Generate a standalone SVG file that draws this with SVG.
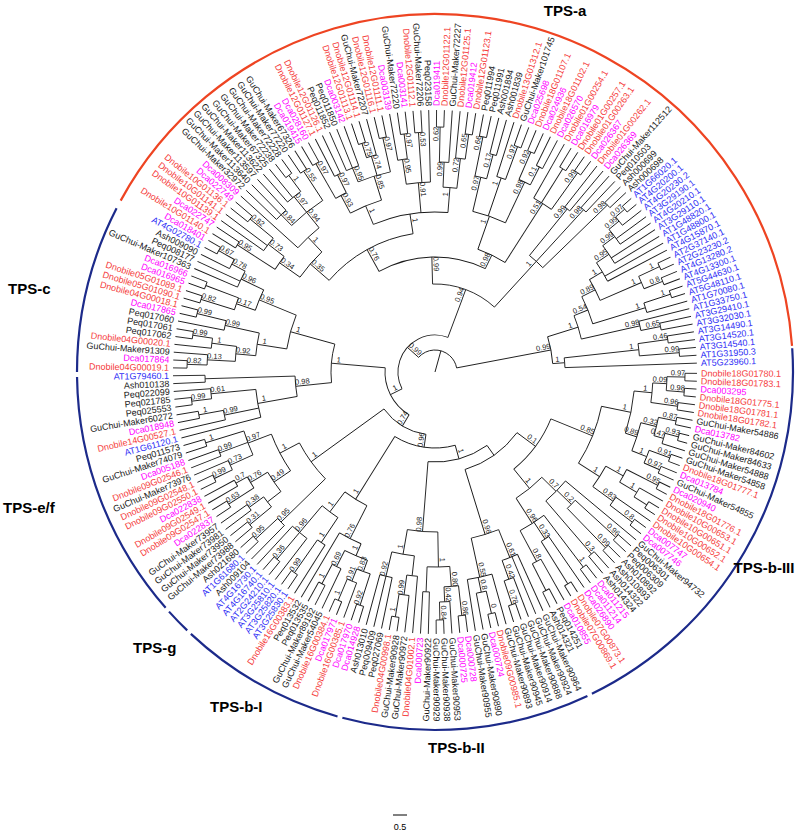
<svg xmlns="http://www.w3.org/2000/svg" width="803" height="837" viewBox="0 0 803 837">
<style>
.c line,.c circle{fill:none;stroke:#1a1a1a;stroke-width:0.9}
.lf{font-family:"Liberation Sans",Arial,sans-serif;font-size:9px;fill:#1a1a1a}
.r{fill:#f53b3b}.m{fill:#ff00ff}.b{fill:#2e2ef5}
.e{text-anchor:end}
.sp{font-family:"Liberation Sans",Arial,sans-serif;font-size:7.5px;fill:#222;text-anchor:middle}
.ca circle{fill:none;stroke-width:2.2}
.cl{font-family:"Liberation Sans",Arial,sans-serif;font-size:15px;font-weight:bold;fill:#000}
</style>
<rect width="803" height="837" fill="#fff"/>
<g transform="translate(435 372)">
<g id="connectors" class="c">
<line x2="22" transform="rotate(285.5)"/>
<circle r="22" pathLength="360" stroke-dasharray="127.53 360" transform="rotate(221.73)"/>
<line x1="22" x2="37" transform="rotate(221.73)"/>
<line x1="22" x2="118" transform="rotate(349.26)"/>
<circle r="37" pathLength="360" stroke-dasharray="137.445 360" transform="rotate(153.01)"/>
<line x1="37" x2="50" transform="rotate(153.01)"/>
<line x1="37" x2="88" transform="rotate(290.455)"/>
<circle r="50" pathLength="360" stroke-dasharray="63.68 360" transform="rotate(121.17)"/>
<line x1="50" x2="63" transform="rotate(121.17)"/>
<line x1="50" x2="104" transform="rotate(184.85)"/>
<circle r="63" pathLength="360" stroke-dasharray="45.815 360" transform="rotate(98.265)"/>
<line x1="63" x2="76" transform="rotate(98.265)"/>
<line x1="63" x2="153" transform="rotate(144.08)"/>
<circle r="76" pathLength="360" stroke-dasharray="47.39 360" transform="rotate(74.57)"/>
<line x1="76" x2="90" transform="rotate(74.57)"/>
<line x1="76" x2="150" transform="rotate(121.96)"/>
<circle r="90" pathLength="360" stroke-dasharray="39.795 360" transform="rotate(54.675)"/>
<line x1="90" x2="102" transform="rotate(54.675)"/>
<line x1="90" x2="160" transform="rotate(94.47)"/>
<circle r="102" pathLength="360" stroke-dasharray="36.37 360" transform="rotate(36.49)"/>
<line x1="102" x2="125" transform="rotate(36.49)"/>
<line x1="102" x2="170" transform="rotate(72.86)"/>
<circle r="125" pathLength="360" stroke-dasharray="28.89 360" transform="rotate(22.04)"/>
<line x1="125" x2="170" transform="rotate(22.04)"/>
<line x1="125" x2="150" transform="rotate(50.93)"/>
<circle r="170" pathLength="360" stroke-dasharray="20.8 360" transform="rotate(11.64)"/>
<line x1="170" x2="200" transform="rotate(11.64)"/>
<line x1="170" x2="195" transform="rotate(32.44)"/>
<circle r="200" pathLength="360" stroke-dasharray="12.36 360" transform="rotate(5.46)"/>
<line x1="200" x2="218" transform="rotate(5.46)"/>
<line x1="200" x2="212" transform="rotate(17.82)"/>
<circle r="218" pathLength="360" stroke-dasharray="5.16 360" transform="rotate(2.88)"/>
<line x1="218" x2="232" transform="rotate(2.88)"/>
<line x1="218" x2="245" transform="rotate(8.04)"/>
<circle r="232" pathLength="360" stroke-dasharray="3.44 360" transform="rotate(1.16)"/>
<line x1="232" x2="250" transform="rotate(1.16)"/>
<line x1="232" x2="250" transform="rotate(4.6)"/>
<circle r="250" pathLength="360" stroke-dasharray="1.72 360" transform="rotate(0.3)"/>
<line x1="250" x2="262" transform="rotate(0.3)"/>
<line x1="250" x2="262" transform="rotate(2.02)"/>
<circle r="250" pathLength="360" stroke-dasharray="1.72 360" transform="rotate(3.74)"/>
<line x1="250" x2="262" transform="rotate(3.74)"/>
<line x1="250" x2="262" transform="rotate(5.46)"/>
<circle r="245" pathLength="360" stroke-dasharray="1.72 360" transform="rotate(7.18)"/>
<line x1="245" x2="262" transform="rotate(7.18)"/>
<line x1="245" x2="262" transform="rotate(8.9)"/>
<circle r="212" pathLength="360" stroke-dasharray="7.955 360" transform="rotate(13.845)"/>
<line x1="212" x2="228" transform="rotate(13.845)"/>
<line x1="212" x2="228" transform="rotate(21.8)"/>
<circle r="228" pathLength="360" stroke-dasharray="4.73 360" transform="rotate(11.48)"/>
<line x1="228" x2="246" transform="rotate(11.48)"/>
<line x1="228" x2="238" transform="rotate(16.21)"/>
<circle r="246" pathLength="360" stroke-dasharray="1.72 360" transform="rotate(10.62)"/>
<line x1="246" x2="262" transform="rotate(10.62)"/>
<line x1="246" x2="262" transform="rotate(12.34)"/>
<circle r="238" pathLength="360" stroke-dasharray="2.58 360" transform="rotate(14.92)"/>
<line x1="238" x2="252" transform="rotate(14.92)"/>
<line x1="238" x2="262" transform="rotate(17.5)"/>
<circle r="252" pathLength="360" stroke-dasharray="1.72 360" transform="rotate(14.06)"/>
<line x1="252" x2="262" transform="rotate(14.06)"/>
<line x1="252" x2="262" transform="rotate(15.78)"/>
<circle r="228" pathLength="360" stroke-dasharray="3.44 360" transform="rotate(20.08)"/>
<line x1="228" x2="250" transform="rotate(20.08)"/>
<line x1="228" x2="245" transform="rotate(23.52)"/>
<circle r="250" pathLength="360" stroke-dasharray="1.72 360" transform="rotate(19.22)"/>
<line x1="250" x2="262" transform="rotate(19.22)"/>
<line x1="250" x2="262" transform="rotate(20.94)"/>
<circle r="245" pathLength="360" stroke-dasharray="1.72 360" transform="rotate(22.66)"/>
<line x1="245" x2="262" transform="rotate(22.66)"/>
<line x1="245" x2="262" transform="rotate(24.38)"/>
<circle r="195" pathLength="360" stroke-dasharray="7.095 360" transform="rotate(28.895)"/>
<line x1="195" x2="215" transform="rotate(28.895)"/>
<line x1="195" x2="220" transform="rotate(35.99)"/>
<circle r="215" pathLength="360" stroke-dasharray="3.87 360" transform="rotate(26.96)"/>
<line x1="215" x2="250" transform="rotate(26.96)"/>
<line x1="215" x2="235" transform="rotate(30.83)"/>
<circle r="250" pathLength="360" stroke-dasharray="1.72 360" transform="rotate(26.1)"/>
<line x1="250" x2="262" transform="rotate(26.1)"/>
<line x1="250" x2="262" transform="rotate(27.82)"/>
<circle r="235" pathLength="360" stroke-dasharray="2.58 360" transform="rotate(29.54)"/>
<line x1="235" x2="262" transform="rotate(29.54)"/>
<line x1="235" x2="250" transform="rotate(32.12)"/>
<circle r="250" pathLength="360" stroke-dasharray="1.72 360" transform="rotate(31.26)"/>
<line x1="250" x2="262" transform="rotate(31.26)"/>
<line x1="250" x2="262" transform="rotate(32.98)"/>
<circle r="220" pathLength="360" stroke-dasharray="2.58 360" transform="rotate(34.7)"/>
<line x1="220" x2="262" transform="rotate(34.7)"/>
<line x1="220" x2="248" transform="rotate(37.28)"/>
<circle r="248" pathLength="360" stroke-dasharray="1.72 360" transform="rotate(36.42)"/>
<line x1="248" x2="262" transform="rotate(36.42)"/>
<line x1="248" x2="262" transform="rotate(38.14)"/>
<circle r="150" pathLength="360" stroke-dasharray="12.685 360" transform="rotate(44.59)"/>
<line x1="150" x2="170" transform="rotate(44.59)"/>
<line x1="150" x2="180" transform="rotate(57.275)"/>
<circle r="170" pathLength="360" stroke-dasharray="9.46 360" transform="rotate(39.86)"/>
<line x1="170" x2="262" transform="rotate(39.86)"/>
<line x1="170" x2="190" transform="rotate(44.16)"/>
<line x1="170" x2="240" transform="rotate(49.32)"/>
<circle r="190" pathLength="360" stroke-dasharray="3.44 360" transform="rotate(42.44)"/>
<line x1="190" x2="245" transform="rotate(42.44)"/>
<line x1="190" x2="245" transform="rotate(45.88)"/>
<circle r="245" pathLength="360" stroke-dasharray="1.72 360" transform="rotate(41.58)"/>
<line x1="245" x2="262" transform="rotate(41.58)"/>
<line x1="245" x2="262" transform="rotate(43.3)"/>
<circle r="245" pathLength="360" stroke-dasharray="1.72 360" transform="rotate(45.02)"/>
<line x1="245" x2="262" transform="rotate(45.02)"/>
<line x1="245" x2="262" transform="rotate(46.74)"/>
<circle r="240" pathLength="360" stroke-dasharray="1.72 360" transform="rotate(48.46)"/>
<line x1="240" x2="262" transform="rotate(48.46)"/>
<line x1="240" x2="262" transform="rotate(50.18)"/>
<circle r="180" pathLength="360" stroke-dasharray="9.03 360" transform="rotate(52.76)"/>
<line x1="180" x2="245" transform="rotate(52.76)"/>
<line x1="180" x2="200" transform="rotate(56.63)"/>
<line x1="180" x2="215" transform="rotate(61.79)"/>
<circle r="245" pathLength="360" stroke-dasharray="1.72 360" transform="rotate(51.9)"/>
<line x1="245" x2="262" transform="rotate(51.9)"/>
<line x1="245" x2="262" transform="rotate(53.62)"/>
<circle r="200" pathLength="360" stroke-dasharray="2.58 360" transform="rotate(55.34)"/>
<line x1="200" x2="262" transform="rotate(55.34)"/>
<line x1="200" x2="250" transform="rotate(57.92)"/>
<circle r="250" pathLength="360" stroke-dasharray="1.72 360" transform="rotate(57.06)"/>
<line x1="250" x2="262" transform="rotate(57.06)"/>
<line x1="250" x2="262" transform="rotate(58.78)"/>
<circle r="215" pathLength="360" stroke-dasharray="2.58 360" transform="rotate(60.5)"/>
<line x1="215" x2="262" transform="rotate(60.5)"/>
<line x1="215" x2="245" transform="rotate(63.08)"/>
<circle r="245" pathLength="360" stroke-dasharray="1.72 360" transform="rotate(62.22)"/>
<line x1="245" x2="262" transform="rotate(62.22)"/>
<line x1="245" x2="262" transform="rotate(63.94)"/>
<circle r="170" pathLength="360" stroke-dasharray="9.675 360" transform="rotate(68.025)"/>
<line x1="170" x2="200" transform="rotate(68.025)"/>
<line x1="170" x2="210" transform="rotate(77.7)"/>
<circle r="200" pathLength="360" stroke-dasharray="4.73 360" transform="rotate(65.66)"/>
<line x1="200" x2="262" transform="rotate(65.66)"/>
<line x1="200" x2="262" transform="rotate(67.38)"/>
<line x1="200" x2="220" transform="rotate(70.39)"/>
<circle r="220" pathLength="360" stroke-dasharray="2.58 360" transform="rotate(69.1)"/>
<line x1="220" x2="262" transform="rotate(69.1)"/>
<line x1="220" x2="245" transform="rotate(71.68)"/>
<circle r="245" pathLength="360" stroke-dasharray="1.72 360" transform="rotate(70.82)"/>
<line x1="245" x2="262" transform="rotate(70.82)"/>
<line x1="245" x2="262" transform="rotate(72.54)"/>
<circle r="210" pathLength="360" stroke-dasharray="6.88 360" transform="rotate(74.26)"/>
<line x1="210" x2="262" transform="rotate(74.26)"/>
<line x1="210" x2="225" transform="rotate(78.13)"/>
<line x1="210" x2="262" transform="rotate(81.14)"/>
<circle r="225" pathLength="360" stroke-dasharray="2.58 360" transform="rotate(76.84)"/>
<line x1="225" x2="248" transform="rotate(76.84)"/>
<line x1="225" x2="262" transform="rotate(79.42)"/>
<circle r="248" pathLength="360" stroke-dasharray="1.72 360" transform="rotate(75.98)"/>
<line x1="248" x2="262" transform="rotate(75.98)"/>
<line x1="248" x2="262" transform="rotate(77.7)"/>
<circle r="160" pathLength="360" stroke-dasharray="10.96 360" transform="rotate(88.99)"/>
<line x1="160" x2="195" transform="rotate(88.99)"/>
<line x1="160" x2="185" transform="rotate(99.95)"/>
<circle r="195" pathLength="360" stroke-dasharray="6.665 360" transform="rotate(85.655)"/>
<line x1="195" x2="215" transform="rotate(85.655)"/>
<line x1="195" x2="220" transform="rotate(92.32)"/>
<circle r="215" pathLength="360" stroke-dasharray="3.87 360" transform="rotate(83.72)"/>
<line x1="215" x2="245" transform="rotate(83.72)"/>
<line x1="215" x2="230" transform="rotate(87.59)"/>
<circle r="245" pathLength="360" stroke-dasharray="1.72 360" transform="rotate(82.86)"/>
<line x1="245" x2="262" transform="rotate(82.86)"/>
<line x1="245" x2="262" transform="rotate(84.58)"/>
<circle r="230" pathLength="360" stroke-dasharray="2.58 360" transform="rotate(86.3)"/>
<line x1="230" x2="262" transform="rotate(86.3)"/>
<line x1="230" x2="248" transform="rotate(88.88)"/>
<circle r="248" pathLength="360" stroke-dasharray="1.72 360" transform="rotate(88.02)"/>
<line x1="248" x2="262" transform="rotate(88.02)"/>
<line x1="248" x2="262" transform="rotate(89.74)"/>
<circle r="220" pathLength="360" stroke-dasharray="1.72 360" transform="rotate(91.46)"/>
<line x1="220" x2="262" transform="rotate(91.46)"/>
<line x1="220" x2="262" transform="rotate(93.18)"/>
<circle r="185" pathLength="360" stroke-dasharray="7.095 360" transform="rotate(96.405)"/>
<line x1="185" x2="205" transform="rotate(96.405)"/>
<line x1="185" x2="210" transform="rotate(103.5)"/>
<circle r="205" pathLength="360" stroke-dasharray="3.01 360" transform="rotate(94.9)"/>
<line x1="205" x2="262" transform="rotate(94.9)"/>
<line x1="205" x2="225" transform="rotate(97.91)"/>
<circle r="225" pathLength="360" stroke-dasharray="2.58 360" transform="rotate(96.62)"/>
<line x1="225" x2="262" transform="rotate(96.62)"/>
<line x1="225" x2="248" transform="rotate(99.2)"/>
<circle r="248" pathLength="360" stroke-dasharray="1.72 360" transform="rotate(98.34)"/>
<line x1="248" x2="262" transform="rotate(98.34)"/>
<line x1="248" x2="262" transform="rotate(100.06)"/>
<circle r="210" pathLength="360" stroke-dasharray="3.44 360" transform="rotate(101.78)"/>
<line x1="210" x2="262" transform="rotate(101.78)"/>
<line x1="210" x2="262" transform="rotate(103.5)"/>
<line x1="210" x2="262" transform="rotate(105.22)"/>
<circle r="150" pathLength="360" stroke-dasharray="9.945 360" transform="rotate(116.99)"/>
<line x1="150" x2="187" transform="rotate(116.99)"/>
<line x1="150" x2="175" transform="rotate(126.935)"/>
<circle r="187" pathLength="360" stroke-dasharray="7.42 360" transform="rotate(113.28)"/>
<line x1="187" x2="200" transform="rotate(113.28)"/>
<line x1="187" x2="262" transform="rotate(120.7)"/>
<circle r="200" pathLength="360" stroke-dasharray="7.095 360" transform="rotate(109.735)"/>
<line x1="200" x2="212" transform="rotate(109.735)"/>
<line x1="200" x2="218" transform="rotate(116.83)"/>
<circle r="212" pathLength="360" stroke-dasharray="3.87 360" transform="rotate(107.8)"/>
<line x1="212" x2="245" transform="rotate(107.8)"/>
<line x1="212" x2="225" transform="rotate(111.67)"/>
<circle r="245" pathLength="360" stroke-dasharray="1.72 360" transform="rotate(106.94)"/>
<line x1="245" x2="262" transform="rotate(106.94)"/>
<line x1="245" x2="262" transform="rotate(108.66)"/>
<circle r="225" pathLength="360" stroke-dasharray="2.58 360" transform="rotate(110.38)"/>
<line x1="225" x2="262" transform="rotate(110.38)"/>
<line x1="225" x2="248" transform="rotate(112.96)"/>
<circle r="248" pathLength="360" stroke-dasharray="1.72 360" transform="rotate(112.1)"/>
<line x1="248" x2="262" transform="rotate(112.1)"/>
<line x1="248" x2="262" transform="rotate(113.82)"/>
<circle r="218" pathLength="360" stroke-dasharray="2.58 360" transform="rotate(115.54)"/>
<line x1="218" x2="262" transform="rotate(115.54)"/>
<line x1="218" x2="240" transform="rotate(118.12)"/>
<circle r="240" pathLength="360" stroke-dasharray="1.72 360" transform="rotate(117.26)"/>
<line x1="240" x2="262" transform="rotate(117.26)"/>
<line x1="240" x2="262" transform="rotate(118.98)"/>
<circle r="175" pathLength="360" stroke-dasharray="6.45 360" transform="rotate(123.71)"/>
<line x1="175" x2="205" transform="rotate(123.71)"/>
<line x1="175" x2="210" transform="rotate(130.16)"/>
<circle r="205" pathLength="360" stroke-dasharray="2.58 360" transform="rotate(122.42)"/>
<line x1="205" x2="262" transform="rotate(122.42)"/>
<line x1="205" x2="245" transform="rotate(125)"/>
<circle r="245" pathLength="360" stroke-dasharray="1.72 360" transform="rotate(124.14)"/>
<line x1="245" x2="262" transform="rotate(124.14)"/>
<line x1="245" x2="262" transform="rotate(125.86)"/>
<circle r="210" pathLength="360" stroke-dasharray="5.16 360" transform="rotate(127.58)"/>
<line x1="210" x2="262" transform="rotate(127.58)"/>
<line x1="210" x2="245" transform="rotate(130.16)"/>
<line x1="210" x2="262" transform="rotate(132.74)"/>
<circle r="245" pathLength="360" stroke-dasharray="1.72 360" transform="rotate(129.3)"/>
<line x1="245" x2="262" transform="rotate(129.3)"/>
<line x1="245" x2="262" transform="rotate(131.02)"/>
<circle r="153" pathLength="360" stroke-dasharray="16.66 360" transform="rotate(135.75)"/>
<line x1="153" x2="215" transform="rotate(135.75)"/>
<line x1="153" x2="175" transform="rotate(152.41)"/>
<circle r="215" pathLength="360" stroke-dasharray="2.58 360" transform="rotate(134.46)"/>
<line x1="215" x2="262" transform="rotate(134.46)"/>
<line x1="215" x2="245" transform="rotate(137.04)"/>
<circle r="245" pathLength="360" stroke-dasharray="1.72 360" transform="rotate(136.18)"/>
<line x1="245" x2="262" transform="rotate(136.18)"/>
<line x1="245" x2="262" transform="rotate(137.9)"/>
<circle r="175" pathLength="360" stroke-dasharray="13.545 360" transform="rotate(145.64)"/>
<line x1="175" x2="195" transform="rotate(145.64)"/>
<line x1="175" x2="200" transform="rotate(159.185)"/>
<circle r="195" pathLength="360" stroke-dasharray="6.88 360" transform="rotate(142.2)"/>
<line x1="195" x2="212" transform="rotate(142.2)"/>
<line x1="195" x2="215" transform="rotate(149.08)"/>
<circle r="212" pathLength="360" stroke-dasharray="3.44 360" transform="rotate(140.48)"/>
<line x1="212" x2="240" transform="rotate(140.48)"/>
<line x1="212" x2="230" transform="rotate(143.92)"/>
<circle r="240" pathLength="360" stroke-dasharray="1.72 360" transform="rotate(139.62)"/>
<line x1="240" x2="262" transform="rotate(139.62)"/>
<line x1="240" x2="262" transform="rotate(141.34)"/>
<circle r="230" pathLength="360" stroke-dasharray="1.72 360" transform="rotate(143.06)"/>
<line x1="230" x2="262" transform="rotate(143.06)"/>
<line x1="230" x2="262" transform="rotate(144.78)"/>
<circle r="215" pathLength="360" stroke-dasharray="3.44 360" transform="rotate(147.36)"/>
<line x1="215" x2="245" transform="rotate(147.36)"/>
<line x1="215" x2="228" transform="rotate(150.8)"/>
<circle r="245" pathLength="360" stroke-dasharray="1.72 360" transform="rotate(146.5)"/>
<line x1="245" x2="262" transform="rotate(146.5)"/>
<line x1="245" x2="262" transform="rotate(148.22)"/>
<circle r="228" pathLength="360" stroke-dasharray="1.72 360" transform="rotate(149.94)"/>
<line x1="228" x2="262" transform="rotate(149.94)"/>
<line x1="228" x2="262" transform="rotate(151.66)"/>
<circle r="200" pathLength="360" stroke-dasharray="7.31 360" transform="rotate(155.53)"/>
<line x1="200" x2="225" transform="rotate(155.53)"/>
<line x1="200" x2="230" transform="rotate(159.4)"/>
<line x1="200" x2="240" transform="rotate(162.84)"/>
<circle r="225" pathLength="360" stroke-dasharray="2.58 360" transform="rotate(154.24)"/>
<line x1="225" x2="245" transform="rotate(154.24)"/>
<line x1="225" x2="262" transform="rotate(156.82)"/>
<circle r="245" pathLength="360" stroke-dasharray="1.72 360" transform="rotate(153.38)"/>
<line x1="245" x2="262" transform="rotate(153.38)"/>
<line x1="245" x2="262" transform="rotate(155.1)"/>
<circle r="230" pathLength="360" stroke-dasharray="1.72 360" transform="rotate(158.54)"/>
<line x1="230" x2="262" transform="rotate(158.54)"/>
<line x1="230" x2="262" transform="rotate(160.26)"/>
<circle r="240" pathLength="360" stroke-dasharray="1.72 360" transform="rotate(161.98)"/>
<line x1="240" x2="262" transform="rotate(161.98)"/>
<line x1="240" x2="262" transform="rotate(163.7)"/>
<circle r="104" pathLength="360" stroke-dasharray="21.44 360" transform="rotate(174.13)"/>
<line x1="104" x2="140" transform="rotate(174.13)"/>
<line x1="104" x2="150" transform="rotate(195.57)"/>
<circle r="140" pathLength="360" stroke-dasharray="8.385 360" transform="rotate(169.935)"/>
<line x1="140" x2="180" transform="rotate(169.935)"/>
<line x1="140" x2="230" transform="rotate(178.32)"/>
<circle r="180" pathLength="360" stroke-dasharray="9.03 360" transform="rotate(165.42)"/>
<line x1="180" x2="262" transform="rotate(165.42)"/>
<line x1="180" x2="215" transform="rotate(168.43)"/>
<line x1="180" x2="225" transform="rotate(174.45)"/>
<circle r="215" pathLength="360" stroke-dasharray="2.58 360" transform="rotate(167.14)"/>
<line x1="215" x2="262" transform="rotate(167.14)"/>
<line x1="215" x2="240" transform="rotate(169.72)"/>
<circle r="240" pathLength="360" stroke-dasharray="1.72 360" transform="rotate(168.86)"/>
<line x1="240" x2="262" transform="rotate(168.86)"/>
<line x1="240" x2="262" transform="rotate(170.58)"/>
<circle r="225" pathLength="360" stroke-dasharray="2.58 360" transform="rotate(173.16)"/>
<line x1="225" x2="245" transform="rotate(173.16)"/>
<line x1="225" x2="262" transform="rotate(175.74)"/>
<circle r="245" pathLength="360" stroke-dasharray="1.72 360" transform="rotate(172.3)"/>
<line x1="245" x2="262" transform="rotate(172.3)"/>
<line x1="245" x2="262" transform="rotate(174.02)"/>
<circle r="230" pathLength="360" stroke-dasharray="1.72 360" transform="rotate(177.46)"/>
<line x1="230" x2="262" transform="rotate(177.46)"/>
<line x1="230" x2="262" transform="rotate(179.18)"/>
<circle r="150" pathLength="360" stroke-dasharray="13.435 360" transform="rotate(188.855)"/>
<line x1="150" x2="180" transform="rotate(188.855)"/>
<line x1="150" x2="190" transform="rotate(202.29)"/>
<circle r="180" pathLength="360" stroke-dasharray="7.31 360" transform="rotate(185.2)"/>
<line x1="180" x2="200" transform="rotate(185.2)"/>
<line x1="180" x2="215" transform="rotate(192.51)"/>
<circle r="200" pathLength="360" stroke-dasharray="4.3 360" transform="rotate(183.05)"/>
<line x1="200" x2="228" transform="rotate(183.05)"/>
<line x1="200" x2="225" transform="rotate(187.35)"/>
<circle r="228" pathLength="360" stroke-dasharray="2.58 360" transform="rotate(181.76)"/>
<line x1="228" x2="248" transform="rotate(181.76)"/>
<line x1="228" x2="262" transform="rotate(184.34)"/>
<circle r="248" pathLength="360" stroke-dasharray="1.72 360" transform="rotate(180.9)"/>
<line x1="248" x2="262" transform="rotate(180.9)"/>
<line x1="248" x2="262" transform="rotate(182.62)"/>
<circle r="225" pathLength="360" stroke-dasharray="2.58 360" transform="rotate(186.06)"/>
<line x1="225" x2="262" transform="rotate(186.06)"/>
<line x1="225" x2="245" transform="rotate(188.64)"/>
<circle r="245" pathLength="360" stroke-dasharray="1.72 360" transform="rotate(187.78)"/>
<line x1="245" x2="262" transform="rotate(187.78)"/>
<line x1="245" x2="262" transform="rotate(189.5)"/>
<circle r="215" pathLength="360" stroke-dasharray="2.58 360" transform="rotate(191.22)"/>
<line x1="215" x2="262" transform="rotate(191.22)"/>
<line x1="215" x2="245" transform="rotate(193.8)"/>
<circle r="245" pathLength="360" stroke-dasharray="1.72 360" transform="rotate(192.94)"/>
<line x1="245" x2="262" transform="rotate(192.94)"/>
<line x1="245" x2="262" transform="rotate(194.66)"/>
<circle r="190" pathLength="360" stroke-dasharray="6.665 360" transform="rotate(198.96)"/>
<line x1="190" x2="210" transform="rotate(198.96)"/>
<line x1="190" x2="215" transform="rotate(205.625)"/>
<circle r="210" pathLength="360" stroke-dasharray="3.44 360" transform="rotate(197.24)"/>
<line x1="210" x2="245" transform="rotate(197.24)"/>
<line x1="210" x2="245" transform="rotate(200.68)"/>
<circle r="245" pathLength="360" stroke-dasharray="1.72 360" transform="rotate(196.38)"/>
<line x1="245" x2="262" transform="rotate(196.38)"/>
<line x1="245" x2="262" transform="rotate(198.1)"/>
<circle r="245" pathLength="360" stroke-dasharray="1.72 360" transform="rotate(199.82)"/>
<line x1="245" x2="262" transform="rotate(199.82)"/>
<line x1="245" x2="262" transform="rotate(201.54)"/>
<circle r="215" pathLength="360" stroke-dasharray="4.73 360" transform="rotate(203.26)"/>
<line x1="215" x2="262" transform="rotate(203.26)"/>
<line x1="215" x2="262" transform="rotate(204.98)"/>
<line x1="215" x2="230" transform="rotate(207.99)"/>
<circle r="230" pathLength="360" stroke-dasharray="2.58 360" transform="rotate(206.7)"/>
<line x1="230" x2="262" transform="rotate(206.7)"/>
<line x1="230" x2="248" transform="rotate(209.28)"/>
<circle r="248" pathLength="360" stroke-dasharray="1.72 360" transform="rotate(208.42)"/>
<line x1="248" x2="262" transform="rotate(208.42)"/>
<line x1="248" x2="262" transform="rotate(210.14)"/>
<circle r="88" pathLength="360" stroke-dasharray="44.05 360" transform="rotate(268.43)"/>
<line x1="88" x2="115" transform="rotate(268.43)"/>
<line x1="88" x2="150" transform="rotate(312.48)"/>
<circle r="115" pathLength="360" stroke-dasharray="54.985 360" transform="rotate(240.94)"/>
<line x1="115" x2="140" transform="rotate(240.94)"/>
<line x1="115" x2="130" transform="rotate(295.925)"/>
<circle r="140" pathLength="360" stroke-dasharray="40.1 360" transform="rotate(220.89)"/>
<line x1="140" x2="165" transform="rotate(220.89)"/>
<line x1="140" x2="160" transform="rotate(260.99)"/>
<circle r="165" pathLength="360" stroke-dasharray="11.61 360" transform="rotate(215.085)"/>
<line x1="165" x2="190" transform="rotate(215.085)"/>
<line x1="165" x2="185" transform="rotate(226.695)"/>
<circle r="190" pathLength="360" stroke-dasharray="4.73 360" transform="rotate(212.72)"/>
<line x1="190" x2="235" transform="rotate(212.72)"/>
<line x1="190" x2="210" transform="rotate(217.45)"/>
<circle r="235" pathLength="360" stroke-dasharray="1.72 360" transform="rotate(211.86)"/>
<line x1="235" x2="262" transform="rotate(211.86)"/>
<line x1="235" x2="262" transform="rotate(213.58)"/>
<circle r="210" pathLength="360" stroke-dasharray="4.3 360" transform="rotate(215.3)"/>
<line x1="210" x2="262" transform="rotate(215.3)"/>
<line x1="210" x2="262" transform="rotate(217.02)"/>
<line x1="210" x2="240" transform="rotate(219.6)"/>
<circle r="240" pathLength="360" stroke-dasharray="1.72 360" transform="rotate(218.74)"/>
<line x1="240" x2="262" transform="rotate(218.74)"/>
<line x1="240" x2="262" transform="rotate(220.46)"/>
<circle r="185" pathLength="360" stroke-dasharray="9.03 360" transform="rotate(222.18)"/>
<line x1="185" x2="262" transform="rotate(222.18)"/>
<line x1="185" x2="205" transform="rotate(231.21)"/>
<circle r="205" pathLength="360" stroke-dasharray="11.18 360" transform="rotate(225.62)"/>
<line x1="205" x2="220" transform="rotate(225.62)"/>
<line x1="205" x2="225" transform="rotate(231.21)"/>
<line x1="205" x2="240" transform="rotate(236.8)"/>
<circle r="220" pathLength="360" stroke-dasharray="3.44 360" transform="rotate(223.9)"/>
<line x1="220" x2="262" transform="rotate(223.9)"/>
<line x1="220" x2="262" transform="rotate(225.62)"/>
<line x1="220" x2="262" transform="rotate(227.34)"/>
<circle r="225" pathLength="360" stroke-dasharray="4.3 360" transform="rotate(229.06)"/>
<line x1="225" x2="262" transform="rotate(229.06)"/>
<line x1="225" x2="262" transform="rotate(230.78)"/>
<line x1="225" x2="245" transform="rotate(233.36)"/>
<circle r="245" pathLength="360" stroke-dasharray="1.72 360" transform="rotate(232.5)"/>
<line x1="245" x2="262" transform="rotate(232.5)"/>
<line x1="245" x2="262" transform="rotate(234.22)"/>
<circle r="240" pathLength="360" stroke-dasharray="1.72 360" transform="rotate(235.94)"/>
<line x1="240" x2="262" transform="rotate(235.94)"/>
<line x1="240" x2="262" transform="rotate(237.66)"/>
<circle r="160" pathLength="360" stroke-dasharray="27.305 360" transform="rotate(247.335)"/>
<line x1="160" x2="180" transform="rotate(247.335)"/>
<line x1="160" x2="190" transform="rotate(264.965)"/>
<line x1="160" x2="185" transform="rotate(274.64)"/>
<circle r="180" pathLength="360" stroke-dasharray="10.75 360" transform="rotate(241.96)"/>
<line x1="180" x2="200" transform="rotate(241.96)"/>
<line x1="180" x2="205" transform="rotate(252.71)"/>
<circle r="200" pathLength="360" stroke-dasharray="3.44 360" transform="rotate(240.24)"/>
<line x1="200" x2="240" transform="rotate(240.24)"/>
<line x1="200" x2="220" transform="rotate(243.68)"/>
<circle r="240" pathLength="360" stroke-dasharray="1.72 360" transform="rotate(239.38)"/>
<line x1="240" x2="262" transform="rotate(239.38)"/>
<line x1="240" x2="262" transform="rotate(241.1)"/>
<circle r="220" pathLength="360" stroke-dasharray="1.72 360" transform="rotate(242.82)"/>
<line x1="220" x2="262" transform="rotate(242.82)"/>
<line x1="220" x2="262" transform="rotate(244.54)"/>
<circle r="205" pathLength="360" stroke-dasharray="9.46 360" transform="rotate(247.98)"/>
<line x1="205" x2="220" transform="rotate(247.98)"/>
<line x1="205" x2="225" transform="rotate(253.57)"/>
<line x1="205" x2="240" transform="rotate(257.44)"/>
<circle r="220" pathLength="360" stroke-dasharray="3.44 360" transform="rotate(246.26)"/>
<line x1="220" x2="262" transform="rotate(246.26)"/>
<line x1="220" x2="262" transform="rotate(247.98)"/>
<line x1="220" x2="262" transform="rotate(249.7)"/>
<circle r="225" pathLength="360" stroke-dasharray="2.58 360" transform="rotate(252.28)"/>
<line x1="225" x2="240" transform="rotate(252.28)"/>
<line x1="225" x2="262" transform="rotate(254.86)"/>
<circle r="240" pathLength="360" stroke-dasharray="1.72 360" transform="rotate(251.42)"/>
<line x1="240" x2="262" transform="rotate(251.42)"/>
<line x1="240" x2="262" transform="rotate(253.14)"/>
<circle r="240" pathLength="360" stroke-dasharray="1.72 360" transform="rotate(256.58)"/>
<line x1="240" x2="262" transform="rotate(256.58)"/>
<line x1="240" x2="262" transform="rotate(258.3)"/>
<circle r="190" pathLength="360" stroke-dasharray="7.31 360" transform="rotate(261.31)"/>
<line x1="190" x2="215" transform="rotate(261.31)"/>
<line x1="190" x2="240" transform="rotate(266.04)"/>
<line x1="190" x2="262" transform="rotate(268.62)"/>
<circle r="215" pathLength="360" stroke-dasharray="2.58 360" transform="rotate(260.02)"/>
<line x1="215" x2="262" transform="rotate(260.02)"/>
<line x1="215" x2="240" transform="rotate(262.6)"/>
<circle r="240" pathLength="360" stroke-dasharray="1.72 360" transform="rotate(261.74)"/>
<line x1="240" x2="262" transform="rotate(261.74)"/>
<line x1="240" x2="262" transform="rotate(263.46)"/>
<circle r="240" pathLength="360" stroke-dasharray="1.72 360" transform="rotate(265.18)"/>
<line x1="240" x2="262" transform="rotate(265.18)"/>
<line x1="240" x2="262" transform="rotate(266.9)"/>
<circle r="185" pathLength="360" stroke-dasharray="4.3 360" transform="rotate(272.49)"/>
<line x1="185" x2="210" transform="rotate(272.49)"/>
<line x1="185" x2="215" transform="rotate(276.79)"/>
<circle r="210" pathLength="360" stroke-dasharray="2.58 360" transform="rotate(271.2)"/>
<line x1="210" x2="245" transform="rotate(271.2)"/>
<line x1="210" x2="262" transform="rotate(273.78)"/>
<circle r="245" pathLength="360" stroke-dasharray="1.72 360" transform="rotate(270.34)"/>
<line x1="245" x2="262" transform="rotate(270.34)"/>
<line x1="245" x2="262" transform="rotate(272.06)"/>
<circle r="215" pathLength="360" stroke-dasharray="2.58 360" transform="rotate(275.5)"/>
<line x1="215" x2="262" transform="rotate(275.5)"/>
<line x1="215" x2="240" transform="rotate(278.08)"/>
<circle r="240" pathLength="360" stroke-dasharray="1.72 360" transform="rotate(277.22)"/>
<line x1="240" x2="262" transform="rotate(277.22)"/>
<line x1="240" x2="262" transform="rotate(278.94)"/>
<circle r="130" pathLength="360" stroke-dasharray="13.33 360" transform="rotate(289.26)"/>
<line x1="130" x2="165" transform="rotate(289.26)"/>
<line x1="130" x2="200" transform="rotate(302.59)"/>
<circle r="165" pathLength="360" stroke-dasharray="12.04 360" transform="rotate(283.24)"/>
<line x1="165" x2="200" transform="rotate(283.24)"/>
<line x1="165" x2="205" transform="rotate(288.83)"/>
<line x1="165" x2="210" transform="rotate(295.28)"/>
<circle r="200" pathLength="360" stroke-dasharray="3.44 360" transform="rotate(281.52)"/>
<line x1="200" x2="240" transform="rotate(281.52)"/>
<line x1="200" x2="225" transform="rotate(284.96)"/>
<circle r="240" pathLength="360" stroke-dasharray="1.72 360" transform="rotate(280.66)"/>
<line x1="240" x2="262" transform="rotate(280.66)"/>
<line x1="240" x2="262" transform="rotate(282.38)"/>
<circle r="225" pathLength="360" stroke-dasharray="1.72 360" transform="rotate(284.1)"/>
<line x1="225" x2="262" transform="rotate(284.1)"/>
<line x1="225" x2="262" transform="rotate(285.82)"/>
<circle r="205" pathLength="360" stroke-dasharray="2.58 360" transform="rotate(287.54)"/>
<line x1="205" x2="262" transform="rotate(287.54)"/>
<line x1="205" x2="240" transform="rotate(290.12)"/>
<circle r="240" pathLength="360" stroke-dasharray="1.72 360" transform="rotate(289.26)"/>
<line x1="240" x2="262" transform="rotate(289.26)"/>
<line x1="240" x2="262" transform="rotate(290.98)"/>
<circle r="210" pathLength="360" stroke-dasharray="3.44 360" transform="rotate(293.56)"/>
<line x1="210" x2="240" transform="rotate(293.56)"/>
<line x1="210" x2="230" transform="rotate(297)"/>
<circle r="240" pathLength="360" stroke-dasharray="1.72 360" transform="rotate(292.7)"/>
<line x1="240" x2="262" transform="rotate(292.7)"/>
<line x1="240" x2="262" transform="rotate(294.42)"/>
<circle r="230" pathLength="360" stroke-dasharray="1.72 360" transform="rotate(296.14)"/>
<line x1="230" x2="262" transform="rotate(296.14)"/>
<line x1="230" x2="262" transform="rotate(297.86)"/>
<circle r="200" pathLength="360" stroke-dasharray="6.02 360" transform="rotate(299.58)"/>
<line x1="200" x2="262" transform="rotate(299.58)"/>
<line x1="200" x2="240" transform="rotate(302.16)"/>
<line x1="200" x2="245" transform="rotate(305.6)"/>
<circle r="240" pathLength="360" stroke-dasharray="1.72 360" transform="rotate(301.3)"/>
<line x1="240" x2="262" transform="rotate(301.3)"/>
<line x1="240" x2="262" transform="rotate(303.02)"/>
<circle r="245" pathLength="360" stroke-dasharray="1.72 360" transform="rotate(304.74)"/>
<line x1="245" x2="262" transform="rotate(304.74)"/>
<line x1="245" x2="262" transform="rotate(306.46)"/>
<circle r="150" pathLength="360" stroke-dasharray="6.88 360" transform="rotate(309.04)"/>
<line x1="150" x2="210" transform="rotate(309.04)"/>
<line x1="150" x2="220" transform="rotate(312.48)"/>
<line x1="150" x2="240" transform="rotate(315.92)"/>
<circle r="210" pathLength="360" stroke-dasharray="1.72 360" transform="rotate(308.18)"/>
<line x1="210" x2="262" transform="rotate(308.18)"/>
<line x1="210" x2="262" transform="rotate(309.9)"/>
<circle r="220" pathLength="360" stroke-dasharray="1.72 360" transform="rotate(311.62)"/>
<line x1="220" x2="262" transform="rotate(311.62)"/>
<line x1="220" x2="262" transform="rotate(313.34)"/>
<circle r="240" pathLength="360" stroke-dasharray="1.72 360" transform="rotate(315.06)"/>
<line x1="240" x2="262" transform="rotate(315.06)"/>
<line x1="240" x2="262" transform="rotate(316.78)"/>
<circle r="118" pathLength="360" stroke-dasharray="13.295 360" transform="rotate(342.615)"/>
<line x1="118" x2="150" transform="rotate(342.615)"/>
<line x1="118" x2="130" transform="rotate(355.91)"/>
<circle r="150" pathLength="360" stroke-dasharray="9.39 360" transform="rotate(337.92)"/>
<line x1="150" x2="165" transform="rotate(337.92)"/>
<line x1="150" x2="210" transform="rotate(347.31)"/>
<circle r="165" pathLength="360" stroke-dasharray="10.185 360" transform="rotate(332.825)"/>
<line x1="165" x2="180" transform="rotate(332.825)"/>
<line x1="165" x2="220" transform="rotate(343.01)"/>
<circle r="180" pathLength="360" stroke-dasharray="7.47 360" transform="rotate(329.09)"/>
<line x1="180" x2="195" transform="rotate(329.09)"/>
<line x1="180" x2="225" transform="rotate(336.56)"/>
<circle r="195" pathLength="360" stroke-dasharray="6.34 360" transform="rotate(325.92)"/>
<line x1="195" x2="210" transform="rotate(325.92)"/>
<line x1="195" x2="262" transform="rotate(330.54)"/>
<line x1="195" x2="262" transform="rotate(332.26)"/>
<circle r="210" pathLength="360" stroke-dasharray="5.805 360" transform="rotate(323.015)"/>
<line x1="210" x2="225" transform="rotate(323.015)"/>
<line x1="210" x2="262" transform="rotate(327.1)"/>
<line x1="210" x2="262" transform="rotate(328.82)"/>
<circle r="225" pathLength="360" stroke-dasharray="4.73 360" transform="rotate(320.65)"/>
<line x1="225" x2="238" transform="rotate(320.65)"/>
<line x1="225" x2="262" transform="rotate(323.66)"/>
<line x1="225" x2="262" transform="rotate(325.38)"/>
<circle r="238" pathLength="360" stroke-dasharray="2.58 360" transform="rotate(319.36)"/>
<line x1="238" x2="250" transform="rotate(319.36)"/>
<line x1="238" x2="262" transform="rotate(321.94)"/>
<circle r="250" pathLength="360" stroke-dasharray="1.72 360" transform="rotate(318.5)"/>
<line x1="250" x2="262" transform="rotate(318.5)"/>
<line x1="250" x2="262" transform="rotate(320.22)"/>
<circle r="225" pathLength="360" stroke-dasharray="3.44 360" transform="rotate(334.84)"/>
<line x1="225" x2="248" transform="rotate(334.84)"/>
<line x1="225" x2="245" transform="rotate(338.28)"/>
<circle r="248" pathLength="360" stroke-dasharray="1.72 360" transform="rotate(333.98)"/>
<line x1="248" x2="262" transform="rotate(333.98)"/>
<line x1="248" x2="262" transform="rotate(335.7)"/>
<circle r="245" pathLength="360" stroke-dasharray="1.72 360" transform="rotate(337.42)"/>
<line x1="245" x2="262" transform="rotate(337.42)"/>
<line x1="245" x2="262" transform="rotate(339.14)"/>
<circle r="220" pathLength="360" stroke-dasharray="2.58 360" transform="rotate(341.72)"/>
<line x1="220" x2="248" transform="rotate(341.72)"/>
<line x1="220" x2="262" transform="rotate(344.3)"/>
<circle r="248" pathLength="360" stroke-dasharray="1.72 360" transform="rotate(340.86)"/>
<line x1="248" x2="262" transform="rotate(340.86)"/>
<line x1="248" x2="262" transform="rotate(342.58)"/>
<circle r="210" pathLength="360" stroke-dasharray="2.58 360" transform="rotate(346.02)"/>
<line x1="210" x2="262" transform="rotate(346.02)"/>
<line x1="210" x2="230" transform="rotate(348.6)"/>
<circle r="230" pathLength="360" stroke-dasharray="1.72 360" transform="rotate(347.74)"/>
<line x1="230" x2="262" transform="rotate(347.74)"/>
<line x1="230" x2="262" transform="rotate(349.46)"/>
<circle r="130" pathLength="360" stroke-dasharray="4.3 360" transform="rotate(353.76)"/>
<line x1="130" x2="205" transform="rotate(353.76)"/>
<line x1="130" x2="262" transform="rotate(358.06)"/>
<circle r="205" pathLength="360" stroke-dasharray="3.44 360" transform="rotate(352.04)"/>
<line x1="205" x2="235" transform="rotate(352.04)"/>
<line x1="205" x2="245" transform="rotate(355.48)"/>
<circle r="235" pathLength="360" stroke-dasharray="1.72 360" transform="rotate(351.18)"/>
<line x1="235" x2="262" transform="rotate(351.18)"/>
<line x1="235" x2="262" transform="rotate(352.9)"/>
<circle r="245" pathLength="360" stroke-dasharray="1.72 360" transform="rotate(354.62)"/>
<line x1="245" x2="262" transform="rotate(354.62)"/>
<line x1="245" x2="262" transform="rotate(356.34)"/>
</g>
<g id="leaves" class="lf">
<g id="leaf1" class="r"><text transform="rotate(0.3)" x="266" y="3">Dnobile18G01780.1</text></g>
<g id="leaf2" class="r"><text transform="rotate(2.02)" x="266" y="3">Dnobile18G01783.1</text></g>
<g id="leaf3" class="m"><text transform="rotate(3.74)" x="266" y="3">Dca003295</text></g>
<g id="leaf4" class="r"><text transform="rotate(5.46)" x="266" y="3">Dnobile18G01775.1</text></g>
<g id="leaf5" class="r"><text transform="rotate(7.18)" x="266" y="3">Dnobile18G01781.1</text></g>
<g id="leaf6" class="r"><text transform="rotate(8.9)" x="266" y="3">Dnobile18G01782.1</text></g>
<g id="leaf7"><text transform="rotate(10.62)" x="266" y="3">GuChui-Maker54886</text></g>
<g id="leaf8" class="m"><text transform="rotate(12.34)" x="266" y="3">Dca013782</text></g>
<g id="leaf9"><text transform="rotate(14.06)" x="266" y="3">GuChui-Maker84602</text></g>
<g id="leaf10"><text transform="rotate(15.78)" x="266" y="3">GuChui-Maker84633</text></g>
<g id="leaf11"><text transform="rotate(17.5)" x="266" y="3">GuChui-Maker54888</text></g>
<g id="leaf12"><text transform="rotate(19.22)" x="266" y="3">GuChui-Maker54858</text></g>
<g id="leaf13" class="r"><text transform="rotate(20.94)" x="266" y="3">Dnobile18G01777.1</text></g>
<g id="leaf14" class="m"><text transform="rotate(22.66)" x="266" y="3">Dca013784</text></g>
<g id="leaf15"><text transform="rotate(24.38)" x="266" y="3">GuChui-Maker54855</text></g>
<g id="leaf16" class="m"><text transform="rotate(26.1)" x="266" y="3">Dca020940</text></g>
<g id="leaf17" class="r"><text transform="rotate(27.82)" x="266" y="3">Dnobile18G01776.1</text></g>
<g id="leaf18" class="r"><text transform="rotate(29.54)" x="266" y="3">Dnobile10G00653.1</text></g>
<g id="leaf19" class="r"><text transform="rotate(31.26)" x="266" y="3">Dnobile10G00651.1</text></g>
<g id="leaf20" class="r"><text transform="rotate(32.98)" x="266" y="3">Dnobile10G00652.1</text></g>
<g id="leaf21" class="r"><text transform="rotate(34.7)" x="266" y="3">Dnobile10G00654.1</text></g>
<g id="leaf22" class="m"><text transform="rotate(36.42)" x="266" y="3">Dca007747</text></g>
<g id="leaf23" class="m"><text transform="rotate(38.14)" x="266" y="3">Dca007746</text></g>
<g id="leaf24"><text transform="rotate(39.86)" x="266" y="3">GuChui-Maker94732</text></g>
<g id="leaf25"><text transform="rotate(41.58)" x="266" y="3">Peq006301</text></g>
<g id="leaf26"><text transform="rotate(43.3)" x="266" y="3">Peq006309</text></g>
<g id="leaf27"><text transform="rotate(45.02)" x="266" y="3">Ash010892</text></g>
<g id="leaf28"><text transform="rotate(46.74)" x="266" y="3">Ash010893</text></g>
<g id="leaf29"><text transform="rotate(48.46)" x="266" y="3">Ash014322</text></g>
<g id="leaf30"><text transform="rotate(50.18)" x="266" y="3">Ash014324</text></g>
<g id="leaf31" class="m"><text transform="rotate(51.9)" x="266" y="3">Dca011215</text></g>
<g id="leaf32" class="m"><text transform="rotate(53.62)" x="266" y="3">Dca011214</text></g>
<g id="leaf33" class="m"><text transform="rotate(55.34)" x="266" y="3">Dca026890</text></g>
<g id="leaf34" class="r"><text transform="rotate(57.06)" x="266" y="3">Dnobile07G00873.1</text></g>
<g id="leaf35" class="r"><text transform="rotate(58.78)" x="266" y="3">Dnobile07G00869.1</text></g>
<g id="leaf36" class="m"><text transform="rotate(60.5)" x="266" y="3">Dca010855</text></g>
<g id="leaf37"><text transform="rotate(62.22)" x="266" y="3">Peq014251</text></g>
<g id="leaf38"><text transform="rotate(63.94)" x="266" y="3">Ash014321</text></g>
<g id="leaf39"><text transform="rotate(65.66)" x="266" y="3">GuChui-Maker90964</text></g>
<g id="leaf40"><text transform="rotate(67.38)" x="266" y="3">GuChui-Maker90924</text></g>
<g id="leaf41"><text transform="rotate(69.1)" x="266" y="3">GuChui-Maker90888</text></g>
<g id="leaf42"><text transform="rotate(70.82)" x="266" y="3">GuChui-Maker90914</text></g>
<g id="leaf43"><text transform="rotate(72.54)" x="266" y="3">GuChui-Maker90945</text></g>
<g id="leaf44"><text transform="rotate(74.26)" x="266" y="3">GuChui-Maker90893</text></g>
<g id="leaf45" class="r"><text transform="rotate(75.98)" x="266" y="3">Dnobile09G00985.1</text></g>
<g id="leaf46" class="m"><text transform="rotate(77.7)" x="266" y="3">Dca000724</text></g>
<g id="leaf47"><text transform="rotate(79.42)" x="266" y="3">GuChui-Maker90890</text></g>
<g id="leaf48"><text transform="rotate(81.14)" x="266" y="3">GuChui-Maker90955</text></g>
<g id="leaf49" class="m"><text transform="rotate(82.86)" x="266" y="3">Dca000728</text></g>
<g id="leaf50" class="m"><text transform="rotate(84.58)" x="266" y="3">Dca000725</text></g>
<g id="leaf51"><text transform="rotate(86.3)" x="266" y="3">GuChui-Maker90953</text></g>
<g id="leaf52"><text transform="rotate(88.02)" x="266" y="3">GuChui-Maker90938</text></g>
<g id="leaf53"><text transform="rotate(89.74)" x="266" y="3">GuChui-Maker90929</text></g>
<g id="leaf54"><text class="e" transform="rotate(-88.54)" x="-266" y="3">GuChui-Maker90922</text></g>
<g id="leaf55" class="m"><text class="e" transform="rotate(-86.82)" x="-266" y="3">Dca000723</text></g>
<g id="leaf56" class="r"><text class="e" transform="rotate(-85.1)" x="-266" y="3">Dnobile04G01002.1</text></g>
<g id="leaf57"><text class="e" transform="rotate(-83.38)" x="-266" y="3">GuChui-Maker90972</text></g>
<g id="leaf58"><text class="e" transform="rotate(-81.66)" x="-266" y="3">GuChui-Maker90928</text></g>
<g id="leaf59" class="r"><text class="e" transform="rotate(-79.94)" x="-266" y="3">Dnobile04G00998.1</text></g>
<g id="leaf60"><text class="e" transform="rotate(-78.22)" x="-266" y="3">Peq027069</text></g>
<g id="leaf61"><text class="e" transform="rotate(-76.5)" x="-266" y="3">Peq009409</text></g>
<g id="leaf62"><text class="e" transform="rotate(-74.78)" x="-266" y="3">Ash013010</text></g>
<g id="leaf63" class="m"><text class="e" transform="rotate(-73.06)" x="-266" y="3">Dca014928</text></g>
<g id="leaf64" class="m"><text class="e" transform="rotate(-71.34)" x="-266" y="3">Dca017970</text></g>
<g id="leaf65" class="r"><text class="e" transform="rotate(-69.62)" x="-266" y="3">Dnobile16G00385.1</text></g>
<g id="leaf66" class="m"><text class="e" transform="rotate(-67.9)" x="-266" y="3">Dca017971</text></g>
<g id="leaf67" class="r"><text class="e" transform="rotate(-66.18)" x="-266" y="3">Dnobile16G00384.1</text></g>
<g id="leaf68"><text class="e" transform="rotate(-64.46)" x="-266" y="3">GuChui-Maker54045</text></g>
<g id="leaf69"><text class="e" transform="rotate(-62.74)" x="-266" y="3">GuChui-Maker89192</text></g>
<g id="leaf70"><text class="e" transform="rotate(-61.02)" x="-266" y="3">Peq013535</text></g>
<g id="leaf71"><text class="e" transform="rotate(-59.3)" x="-266" y="3">Peq013532</text></g>
<g id="leaf72" class="r"><text class="e" transform="rotate(-57.58)" x="-266" y="3">Dnobile16G00383.1</text></g>
<g id="leaf73" class="b"><text class="e" transform="rotate(-55.86)" x="-266" y="3">AT3G25830.1</text></g>
<g id="leaf74" class="b"><text class="e" transform="rotate(-54.14)" x="-266" y="3">AT3G25820.1</text></g>
<g id="leaf75" class="b"><text class="e" transform="rotate(-52.42)" x="-266" y="3">AT3G25810.1</text></g>
<g id="leaf76" class="b"><text class="e" transform="rotate(-50.7)" x="-266" y="3">AT2G24210.1</text></g>
<g id="leaf77" class="b"><text class="e" transform="rotate(-48.98)" x="-266" y="3">AT4G16740.1</text></g>
<g id="leaf78" class="b"><text class="e" transform="rotate(-47.26)" x="-266" y="3">AT4G16730.1</text></g>
<g id="leaf79"><text class="e" transform="rotate(-45.54)" x="-266" y="3">Ash009104</text></g>
<g id="leaf80" class="b"><text class="e" transform="rotate(-43.82)" x="-266" y="3">AT1G61680.1</text></g>
<g id="leaf81"><text class="e" transform="rotate(-42.1)" x="-266" y="3">Ash021680</text></g>
<g id="leaf82"><text class="e" transform="rotate(-40.38)" x="-266" y="3">GuChui-Maker73988</text></g>
<g id="leaf83"><text class="e" transform="rotate(-38.66)" x="-266" y="3">GuChui-Maker73950</text></g>
<g id="leaf84"><text class="e" transform="rotate(-36.94)" x="-266" y="3">GuChui-Maker73981</text></g>
<g id="leaf85"><text class="e" transform="rotate(-35.22)" x="-266" y="3">GuChui-Maker73957</text></g>
<g id="leaf86" class="m"><text class="e" transform="rotate(-33.5)" x="-266" y="3">Dca022837</text></g>
<g id="leaf87" class="r"><text class="e" transform="rotate(-31.78)" x="-266" y="3">Dnobile09G02547.1</text></g>
<g id="leaf88" class="r"><text class="e" transform="rotate(-30.06)" x="-266" y="3">Dnobile09G02549.1</text></g>
<g id="leaf89" class="m"><text class="e" transform="rotate(-28.34)" x="-266" y="3">Dca022838</text></g>
<g id="leaf90" class="r"><text class="e" transform="rotate(-26.62)" x="-266" y="3">Dnobile09G02550.1</text></g>
<g id="leaf91" class="r"><text class="e" transform="rotate(-24.9)" x="-266" y="3">Dnobile09G02548.1</text></g>
<g id="leaf92"><text class="e" transform="rotate(-23.18)" x="-266" y="3">GuChui-Maker73976</text></g>
<g id="leaf93" class="r"><text class="e" transform="rotate(-21.46)" x="-266" y="3">Dnobile09G02546.1</text></g>
<g id="leaf94" class="m"><text class="e" transform="rotate(-19.74)" x="-266" y="3">Dca005188</text></g>
<g id="leaf95"><text class="e" transform="rotate(-18.02)" x="-266" y="3">GuChui-Maker74079</text></g>
<g id="leaf96"><text class="e" transform="rotate(-16.3)" x="-266" y="3">Peq011573</text></g>
<g id="leaf97" class="b"><text class="e" transform="rotate(-14.58)" x="-266" y="3">AT1G61120.1</text></g>
<g id="leaf98" class="r"><text class="e" transform="rotate(-12.86)" x="-266" y="3">Dnobile14G00527.1</text></g>
<g id="leaf99" class="m"><text class="e" transform="rotate(-11.14)" x="-266" y="3">Dca018948</text></g>
<g id="leaf100"><text class="e" transform="rotate(-9.42)" x="-266" y="3">GuChui-Maker60272</text></g>
<g id="leaf101"><text class="e" transform="rotate(-7.7)" x="-266" y="3">Peq025553</text></g>
<g id="leaf102"><text class="e" transform="rotate(-5.98)" x="-266" y="3">Peq021785</text></g>
<g id="leaf103"><text class="e" transform="rotate(-4.26)" x="-266" y="3">Peq022099</text></g>
<g id="leaf104"><text class="e" transform="rotate(-2.54)" x="-266" y="3">Ash010138</text></g>
<g id="leaf105" class="b"><text class="e" transform="rotate(-0.82)" x="-266" y="3">AT1G79460.1</text></g>
<g id="leaf106" class="r"><text class="e" transform="rotate(0.9)" x="-266" y="3">Dnobile04G00019.1</text></g>
<g id="leaf107" class="m"><text class="e" transform="rotate(2.62)" x="-266" y="3">Dca017864</text></g>
<g id="leaf108"><text class="e" transform="rotate(4.34)" x="-266" y="3">GuChui-Maker91309</text></g>
<g id="leaf109" class="r"><text class="e" transform="rotate(6.06)" x="-266" y="3">Dnobile04G00020.1</text></g>
<g id="leaf110"><text class="e" transform="rotate(7.78)" x="-266" y="3">Peq017062</text></g>
<g id="leaf111"><text class="e" transform="rotate(9.5)" x="-266" y="3">Peq017061</text></g>
<g id="leaf112"><text class="e" transform="rotate(11.22)" x="-266" y="3">Peq017060</text></g>
<g id="leaf113" class="m"><text class="e" transform="rotate(12.94)" x="-266" y="3">Dca017865</text></g>
<g id="leaf114" class="r"><text class="e" transform="rotate(14.66)" x="-266" y="3">Dnobile04G00018.1</text></g>
<g id="leaf115" class="r"><text class="e" transform="rotate(16.38)" x="-266" y="3">Dnobile05G01090.1</text></g>
<g id="leaf116" class="r"><text class="e" transform="rotate(18.1)" x="-266" y="3">Dnobile05G01089.1</text></g>
<g id="leaf117" class="m"><text class="e" transform="rotate(19.82)" x="-266" y="3">Dca016965</text></g>
<g id="leaf118" class="m"><text class="e" transform="rotate(21.54)" x="-266" y="3">Dca016966</text></g>
<g id="leaf119"><text class="e" transform="rotate(23.26)" x="-266" y="3">GuChui-Maker107363</text></g>
<g id="leaf120"><text class="e" transform="rotate(24.98)" x="-266" y="3">Peq008177</text></g>
<g id="leaf121"><text class="e" transform="rotate(26.7)" x="-266" y="3">Ash009090</text></g>
<g id="leaf122" class="b"><text class="e" transform="rotate(28.42)" x="-266" y="3">AT4G02780.1</text></g>
<g id="leaf123" class="m"><text class="e" transform="rotate(30.14)" x="-266" y="3">Dca018401</text></g>
<g id="leaf124" class="r"><text class="e" transform="rotate(31.86)" x="-266" y="3">Dnobile10G01140.1</text></g>
<g id="leaf125" class="m"><text class="e" transform="rotate(33.58)" x="-266" y="3">Dca022747</text></g>
<g id="leaf126" class="r"><text class="e" transform="rotate(35.3)" x="-266" y="3">Dnobile10G01139.1</text></g>
<g id="leaf127" class="r"><text class="e" transform="rotate(37.02)" x="-266" y="3">Dnobile10G01141.1</text></g>
<g id="leaf128" class="r"><text class="e" transform="rotate(38.74)" x="-266" y="3">Dnobile10G01136.1</text></g>
<g id="leaf129" class="m"><text class="e" transform="rotate(40.46)" x="-266" y="3">Dca022749</text></g>
<g id="leaf130" class="m"><text class="e" transform="rotate(42.18)" x="-266" y="3">Dca008309</text></g>
<g id="leaf131"><text class="e" transform="rotate(43.9)" x="-266" y="3">GuChui-Maker32972</text></g>
<g id="leaf132"><text class="e" transform="rotate(45.62)" x="-266" y="3">GuChui-Maker113640</text></g>
<g id="leaf133"><text class="e" transform="rotate(47.34)" x="-266" y="3">GuChui-Maker113597</text></g>
<g id="leaf134"><text class="e" transform="rotate(49.06)" x="-266" y="3">GuChui-Maker113622</text></g>
<g id="leaf135"><text class="e" transform="rotate(50.78)" x="-266" y="3">GuChui-Maker67325</text></g>
<g id="leaf136"><text class="e" transform="rotate(52.5)" x="-266" y="3">GuChui-Maker72238</text></g>
<g id="leaf137"><text class="e" transform="rotate(54.22)" x="-266" y="3">GuChui-Maker72228</text></g>
<g id="leaf138"><text class="e" transform="rotate(55.94)" x="-266" y="3">GuChui-Maker77220</text></g>
<g id="leaf139"><text class="e" transform="rotate(57.66)" x="-266" y="3">GuChui-Maker67326</text></g>
<g id="leaf140" class="m"><text class="e" transform="rotate(59.38)" x="-266" y="3">Dca019415</text></g>
<g id="leaf141" class="m"><text class="e" transform="rotate(61.1)" x="-266" y="3">Dca028160</text></g>
<g id="leaf142" class="r"><text class="e" transform="rotate(62.82)" x="-266" y="3">Dnobile12G01127.1</text></g>
<g id="leaf143" class="r"><text class="e" transform="rotate(64.54)" x="-266" y="3">Dnobile12G01126.1</text></g>
<g id="leaf144"><text class="e" transform="rotate(66.26)" x="-266" y="3">Peq011852</text></g>
<g id="leaf145"><text class="e" transform="rotate(67.98)" x="-266" y="3">Peq011850</text></g>
<g id="leaf146" class="m"><text class="e" transform="rotate(69.7)" x="-266" y="3">Dca003142</text></g>
<g id="leaf147" class="r"><text class="e" transform="rotate(71.42)" x="-266" y="3">Dnobile12G01113.1</text></g>
<g id="leaf148" class="r"><text class="e" transform="rotate(73.14)" x="-266" y="3">Dnobile12G01114.1</text></g>
<g id="leaf149"><text class="e" transform="rotate(74.86)" x="-266" y="3">GuChui-Maker72207</text></g>
<g id="leaf150" class="r"><text class="e" transform="rotate(76.58)" x="-266" y="3">Dnobile12G01116.1</text></g>
<g id="leaf151" class="r"><text class="e" transform="rotate(78.3)" x="-266" y="3">Dnobile12G01111.1</text></g>
<g id="leaf152" class="m"><text class="e" transform="rotate(80.02)" x="-266" y="3">Dca003139</text></g>
<g id="leaf153"><text class="e" transform="rotate(81.74)" x="-266" y="3">GuChui-Maker72220</text></g>
<g id="leaf154" class="m"><text class="e" transform="rotate(83.46)" x="-266" y="3">Dca003141</text></g>
<g id="leaf155" class="r"><text class="e" transform="rotate(85.18)" x="-266" y="3">Dnobile12G01112.1</text></g>
<g id="leaf156"><text class="e" transform="rotate(86.9)" x="-266" y="3">GuChui-Maker72206</text></g>
<g id="leaf157"><text class="e" transform="rotate(88.62)" x="-266" y="3">Peq023158</text></g>
<g id="leaf158" class="m"><text transform="rotate(270.34)" x="266" y="3">Dca019411</text></g>
<g id="leaf159" class="r"><text transform="rotate(272.06)" x="266" y="3">Dnobile12G01122.1</text></g>
<g id="leaf160"><text transform="rotate(273.78)" x="266" y="3">GuChui-Maker72227</text></g>
<g id="leaf161" class="r"><text transform="rotate(275.5)" x="266" y="3">Dnobile12G01125.1</text></g>
<g id="leaf162" class="m"><text transform="rotate(277.22)" x="266" y="3">Dca019412</text></g>
<g id="leaf163" class="r"><text transform="rotate(278.94)" x="266" y="3">Dnobile12G01123.1</text></g>
<g id="leaf164"><text transform="rotate(280.66)" x="266" y="3">Peq011994</text></g>
<g id="leaf165"><text transform="rotate(282.38)" x="266" y="3">Peq011991</text></g>
<g id="leaf166"><text transform="rotate(284.1)" x="266" y="3">Ash001894</text></g>
<g id="leaf167"><text transform="rotate(285.82)" x="266" y="3">Ash001839</text></g>
<g id="leaf168" class="r"><text transform="rotate(287.54)" x="266" y="3">Dnobile13G01312.1</text></g>
<g id="leaf169"><text transform="rotate(289.26)" x="266" y="3">GuChui-Maker101745</text></g>
<g id="leaf170" class="m"><text transform="rotate(290.98)" x="266" y="3">Dca025698</text></g>
<g id="leaf171" class="r"><text transform="rotate(292.7)" x="266" y="3">Dnobile18G01107.1</text></g>
<g id="leaf172" class="m"><text transform="rotate(294.42)" x="266" y="3">Dca024936</text></g>
<g id="leaf173" class="r"><text transform="rotate(296.14)" x="266" y="3">Dnobile18G01102.1</text></g>
<g id="leaf174" class="m"><text transform="rotate(297.86)" x="266" y="3">Dca026570</text></g>
<g id="leaf175" class="r"><text transform="rotate(299.58)" x="266" y="3">Dnobile01G00254.1</text></g>
<g id="leaf176" class="m"><text transform="rotate(301.3)" x="266" y="3">Dca016979</text></g>
<g id="leaf177" class="r"><text transform="rotate(303.02)" x="266" y="3">Dnobile01G00257.1</text></g>
<g id="leaf178" class="r"><text transform="rotate(304.74)" x="266" y="3">Dnobile01G00263.1</text></g>
<g id="leaf179" class="m"><text transform="rotate(306.46)" x="266" y="3">Dca026367</text></g>
<g id="leaf180" class="r"><text transform="rotate(308.18)" x="266" y="3">Dnobile01G00262.1</text></g>
<g id="leaf181" class="m"><text transform="rotate(309.9)" x="266" y="3">Dca026369</text></g>
<g id="leaf182"><text transform="rotate(311.62)" x="266" y="3">GuChui-Maker112512</text></g>
<g id="leaf183"><text transform="rotate(313.34)" x="266" y="3">Peq010503</text></g>
<g id="leaf184"><text transform="rotate(315.06)" x="266" y="3">Ash000699</text></g>
<g id="leaf185"><text transform="rotate(316.78)" x="266" y="3">Ash000698</text></g>
<g id="leaf186" class="b"><text transform="rotate(318.5)" x="266" y="3">AT1G66020.1</text></g>
<g id="leaf187" class="b"><text transform="rotate(320.22)" x="266" y="3">AT4G20200.1</text></g>
<g id="leaf188" class="b"><text transform="rotate(321.94)" x="266" y="3">AT4G20230.2</text></g>
<g id="leaf189" class="b"><text transform="rotate(323.66)" x="266" y="3">AT3G29190.1</text></g>
<g id="leaf190" class="b"><text transform="rotate(325.38)" x="266" y="3">AT4G20210.1</text></g>
<g id="leaf191" class="b"><text transform="rotate(327.1)" x="266" y="3">AT3G29110.1</text></g>
<g id="leaf192" class="b"><text transform="rotate(328.82)" x="266" y="3">AT1G48820.1</text></g>
<g id="leaf193" class="b"><text transform="rotate(330.54)" x="266" y="3">AT1G48800.1</text></g>
<g id="leaf194" class="b"><text transform="rotate(332.26)" x="266" y="3">AT4G15870.1</text></g>
<g id="leaf195" class="b"><text transform="rotate(333.98)" x="266" y="3">AT2G37140.1</text></g>
<g id="leaf196" class="b"><text transform="rotate(335.7)" x="266" y="3">AT2G23230.2</text></g>
<g id="leaf197" class="b"><text transform="rotate(337.42)" x="266" y="3">AT4G13280.2</text></g>
<g id="leaf198" class="b"><text transform="rotate(339.14)" x="266" y="3">AT4G13300.1</text></g>
<g id="leaf199" class="b"><text transform="rotate(340.86)" x="266" y="3">AT5G44630.1</text></g>
<g id="leaf200" class="b"><text transform="rotate(342.58)" x="266" y="3">AT5G48110.1</text></g>
<g id="leaf201" class="b"><text transform="rotate(344.3)" x="266" y="3">AT1G70080.1</text></g>
<g id="leaf202" class="b"><text transform="rotate(346.02)" x="266" y="3">AT1G33750.1</text></g>
<g id="leaf203" class="b"><text transform="rotate(347.74)" x="266" y="3">AT3G29410.1</text></g>
<g id="leaf204" class="b"><text transform="rotate(349.46)" x="266" y="3">AT3G32030.1</text></g>
<g id="leaf205" class="b"><text transform="rotate(351.18)" x="266" y="3">AT3G14490.1</text></g>
<g id="leaf206" class="b"><text transform="rotate(352.9)" x="266" y="3">AT3G14520.1</text></g>
<g id="leaf207" class="b"><text transform="rotate(354.62)" x="266" y="3">AT3G14540.1</text></g>
<g id="leaf208" class="b"><text transform="rotate(356.34)" x="266" y="3">AT1G31950.3</text></g>
<g id="leaf209" class="b"><text transform="rotate(358.06)" x="266" y="3">AT5G23960.1</text></g>
</g>
<g id="support" class="sp">
<text transform="rotate(5.46)" x="211" y="-1.5">1</text>
<text transform="rotate(2.88)" x="225" y="-1.5">0.09</text>
<text transform="rotate(1.16)" x="243" y="-1.5">0.97</text>
<text transform="rotate(4.6)" x="243" y="-1.5">0.98</text>
<text transform="rotate(8.04)" x="238" y="-1.5">0.96</text>
<text transform="rotate(11.48)" x="239" y="-1.5">0.87</text>
<text transform="rotate(14.92)" x="245" y="-1.5">0.93</text>
<text transform="rotate(16.21)" x="231" y="-1.5">0.47</text>
<text transform="rotate(13.845)" x="221" y="-1.5">0.32</text>
<text transform="rotate(20.08)" x="243" y="-1.5">0.91</text>
<text transform="rotate(23.52)" x="238" y="-1.5">0.97</text>
<text transform="rotate(21.8)" x="221" y="-1.5">1</text>
<text transform="rotate(17.82)" x="205" y="-1.5">0.89</text>
<text transform="rotate(11.64)" x="193" y="-1.5">1</text>
<text transform="rotate(26.96)" x="243" y="-1.5">0.95</text>
<text transform="rotate(30.83)" x="228" y="-1.5">1</text>
<text transform="rotate(28.895)" x="208" y="-1.5">1</text>
<text transform="rotate(37.28)" x="241" y="-1.5">0.8</text>
<text transform="rotate(35.99)" x="213" y="-1.5">0.83</text>
<text transform="rotate(32.44)" x="188" y="-1.5">1</text>
<text transform="rotate(22.04)" x="163" y="-1.5">0.85</text>
<text transform="rotate(36.49)" x="118" y="-1.5">0.1</text>
<text transform="rotate(42.44)" x="238" y="-1.5">0.96</text>
<text transform="rotate(45.88)" x="238" y="-1.5">0.99</text>
<text transform="rotate(44.16)" x="183" y="-1.5">0.2</text>
<text transform="rotate(49.32)" x="233" y="-1.5">0.3</text>
<text transform="rotate(44.59)" x="163" y="-1.5">0.7</text>
<text transform="rotate(52.76)" x="238" y="-1.5">1</text>
<text transform="rotate(56.63)" x="193" y="-1.5">0.33</text>
<text transform="rotate(61.79)" x="208" y="-1.5">0.8</text>
<text transform="rotate(57.275)" x="173" y="-1.5">0.96</text>
<text transform="rotate(50.93)" x="143" y="-1.5">1</text>
<text transform="rotate(71.68)" x="238" y="-1.5">0.78</text>
<text transform="rotate(70.39)" x="213" y="-1.5">0.42</text>
<text transform="rotate(68.025)" x="193" y="-1.5">0.61</text>
<text transform="rotate(76.84)" x="241" y="-1.5">0</text>
<text transform="rotate(78.13)" x="218" y="-1.5">0.8</text>
<text transform="rotate(77.7)" x="203" y="-1.5">0.55</text>
<text transform="rotate(72.86)" x="163" y="-1.5">0.96</text>
<text transform="rotate(83.72)" x="238" y="-1.5">0.86</text>
<text transform="rotate(88.88)" x="241" y="-1.5">0.84</text>
<text transform="rotate(87.59)" x="223" y="-1.5">0.42</text>
<text transform="rotate(85.655)" x="208" y="-1.5">0.80</text>
<text transform="rotate(88.99)" x="188" y="-1.5">1</text>
<text transform="rotate(-80.8)" x="-241" y="-1.5">1</text>
<text transform="rotate(-82.09)" x="-218" y="-1.5">0.99</text>
<text transform="rotate(-76.5)" x="-203" y="-1.5">0.92</text>
<text transform="rotate(-80.05)" x="-178" y="-1.5">1</text>
<text transform="rotate(-85.53)" x="-153" y="-1.5">0.98</text>
<text transform="rotate(74.57)" x="83" y="-1.5">1</text>
<text transform="rotate(-81.735)" x="-69" y="-1.5">0.96</text>
<text transform="rotate(-58.83)" x="-56" y="-1.5">0.74</text>
<text transform="rotate(-26.99)" x="-43" y="-1.5">1</text>
<text transform="rotate(41.73)" x="-30" y="-1.5">0.99</text>
<text transform="rotate(4.85)" x="-97" y="-1.5">1</text>
<text transform="rotate(349.26)" x="111" y="-1.5">0.99</text>
<text transform="rotate(290.455)" x="81" y="-1.5">0.94</text>
<text transform="rotate(-72.2)" x="-238" y="-1.5">0.92</text>
<text transform="rotate(-67.04)" x="-241" y="-1.5">1</text>
<text transform="rotate(-68.33)" x="-218" y="-1.5">0.91</text>
<text transform="rotate(-70.265)" x="-205" y="-1.5">0.83</text>
<text transform="rotate(-61.88)" x="-233" y="-1.5">1</text>
<text transform="rotate(-63.17)" x="-211" y="-1.5">0.69</text>
<text transform="rotate(-66.72)" x="-193" y="-1.5">1</text>
<text transform="rotate(-63.01)" x="-180" y="-1.5">0.76</text>
<text transform="rotate(-55)" x="-238" y="-1.5">0.99</text>
<text transform="rotate(-56.29)" x="-198" y="-1.5">1</text>
<text transform="rotate(-49.84)" x="-238" y="-1.5">0.36</text>
<text transform="rotate(-49.84)" x="-203" y="-1.5">0.96</text>
<text transform="rotate(-53.065)" x="-168" y="-1.5">1</text>
<text transform="rotate(-58.04)" x="-143" y="-1.5">1</text>
<text transform="rotate(-42.96)" x="-238" y="-1.5">0.95</text>
<text transform="rotate(-44.25)" x="-208" y="-1.5">0.95</text>
<text transform="rotate(-35.92)" x="-146" y="-1.5">1</text>
<text transform="rotate(-39.52)" x="-233" y="-1.5">0.31</text>
<text transform="rotate(-36.08)" x="-223" y="-1.5">0.38</text>
<text transform="rotate(-32.64)" x="-238" y="-1.5">0.63</text>
<text transform="rotate(-29.2)" x="-221" y="-1.5">0.7</text>
<text transform="rotate(-30.92)" x="-208" y="-1.5">0.76</text>
<text transform="rotate(-34.36)" x="-188" y="-1.5">0.49</text>
<text transform="rotate(-25.76)" x="-238" y="-1.5">0.99</text>
<text transform="rotate(-24.47)" x="-218" y="-1.5">0.73</text>
<text transform="rotate(-20.6)" x="-223" y="-1.5">0.99</text>
<text transform="rotate(-17.16)" x="-233" y="-1.5">1</text>
<text transform="rotate(-20.815)" x="-193" y="-1.5">0.97</text>
<text transform="rotate(-27.59)" x="-168" y="-1.5">1</text>
<text transform="rotate(-10.28)" x="-233" y="-1.5">1</text>
<text transform="rotate(-11.57)" x="-208" y="-1.5">0.99</text>
<text transform="rotate(-6.84)" x="-238" y="-1.5">0.99</text>
<text transform="rotate(-5.55)" x="-218" y="-1.5">0.61</text>
<text transform="rotate(-10.065)" x="-173" y="-1.5">1</text>
<text transform="rotate(-5.87)" x="-133" y="-1.5">0.98</text>
<text transform="rotate(1.76)" x="-241" y="-1.5">0.82</text>
<text transform="rotate(3.05)" x="-221" y="-1.5">0.13</text>
<text transform="rotate(8.64)" x="-238" y="-1.5">0.99</text>
<text transform="rotate(7.35)" x="-218" y="-1.5">1</text>
<text transform="rotate(5.2)" x="-193" y="-1.5">0.92</text>
<text transform="rotate(13.8)" x="-238" y="-1.5">0.99</text>
<text transform="rotate(12.51)" x="-208" y="-1.5">0.99</text>
<text transform="rotate(8.855)" x="-173" y="-1.5">1</text>
<text transform="rotate(17.24)" x="-238" y="-1.5">0.82</text>
<text transform="rotate(18.96)" x="-203" y="-1.5">0.17</text>
<text transform="rotate(29.28)" x="-241" y="-1.5">0.67</text>
<text transform="rotate(27.99)" x="-223" y="-1.5">0.78</text>
<text transform="rotate(25.625)" x="-208" y="-1.5">0.96</text>
<text transform="rotate(22.29)" x="-183" y="-1.5">0.95</text>
<text transform="rotate(15.57)" x="-143" y="-1.5">1</text>
<text transform="rotate(32.72)" x="-228" y="-1.5">0.95</text>
<text transform="rotate(39.6)" x="-233" y="-1.5">0.82</text>
<text transform="rotate(37.45)" x="-203" y="-1.5">0.73</text>
<text transform="rotate(35.085)" x="-183" y="-1.5">0.34</text>
<text transform="rotate(45.62)" x="-213" y="-1.5">0.84</text>
<text transform="rotate(53.36)" x="-238" y="-1.5">1</text>
<text transform="rotate(51.21)" x="-218" y="-1.5">0.97</text>
<text transform="rotate(56.8)" x="-233" y="-1.5">0.55</text>
<text transform="rotate(51.21)" x="-198" y="-1.5">0.94</text>
<text transform="rotate(46.695)" x="-178" y="-1.5">1</text>
<text transform="rotate(40.89)" x="-158" y="-1.5">0.35</text>
<text transform="rotate(60.24)" x="-233" y="-1.5">0.97</text>
<text transform="rotate(63.68)" x="-213" y="-1.5">0.97</text>
<text transform="rotate(61.96)" x="-193" y="-1.5">0.93</text>
<text transform="rotate(67.98)" x="-213" y="-1.5">0.95</text>
<text transform="rotate(72.28)" x="-233" y="-1.5">0.75</text>
<text transform="rotate(73.57)" x="-218" y="-1.5">0.74</text>
<text transform="rotate(77.44)" x="-233" y="-1.5">0.97</text>
<text transform="rotate(72.71)" x="-198" y="-1.5">0.85</text>
<text transform="rotate(67.335)" x="-173" y="-1.5">1</text>
<text transform="rotate(82.6)" x="-233" y="-1.5">0.97</text>
<text transform="rotate(81.31)" x="-208" y="-1.5">0.95</text>
<text transform="rotate(86.04)" x="-233" y="-1.5">0.53</text>
<text transform="rotate(84.965)" x="-183" y="-1.5">0.91</text>
<text transform="rotate(271.2)" x="238" y="-1.5">0.62</text>
<text transform="rotate(272.49)" x="203" y="-1.5">0.99</text>
<text transform="rotate(278.08)" x="233" y="-1.5">0.65</text>
<text transform="rotate(276.79)" x="208" y="-1.5">0.72</text>
<text transform="rotate(274.64)" x="178" y="-1.5">1</text>
<text transform="rotate(80.99)" x="-153" y="-1.5">1</text>
<text transform="rotate(60.94)" x="-133" y="-1.5">0.76</text>
<text transform="rotate(281.52)" x="233" y="-1.5">0.66</text>
<text transform="rotate(284.96)" x="218" y="-1.5">0.17</text>
<text transform="rotate(283.24)" x="193" y="-1.5">0.97</text>
<text transform="rotate(290.12)" x="233" y="-1.5">0.97</text>
<text transform="rotate(288.83)" x="198" y="-1.5">1</text>
<text transform="rotate(293.56)" x="233" y="-1.5">0.92</text>
<text transform="rotate(297)" x="223" y="-1.5">0.1</text>
<text transform="rotate(295.28)" x="203" y="-1.5">0.98</text>
<text transform="rotate(289.26)" x="158" y="-1.5">1</text>
<text transform="rotate(305.6)" x="238" y="-1.5">0.99</text>
<text transform="rotate(302.59)" x="193" y="-1.5">0.51</text>
<text transform="rotate(295.925)" x="123" y="-1.5">0.98</text>
<text transform="rotate(88.43)" x="-108" y="-1.5">0.99</text>
<text transform="rotate(309.04)" x="203" y="-1.5">0.99</text>
<text transform="rotate(312.48)" x="213" y="-1.5">0.98</text>
<text transform="rotate(315.92)" x="233" y="-1.5">0.98</text>
<text transform="rotate(312.48)" x="143" y="-1.5">1</text>
<text transform="rotate(319.36)" x="243" y="-1.5">0.07</text>
<text transform="rotate(320.65)" x="231" y="-1.5">0.99</text>
<text transform="rotate(323.015)" x="218" y="-1.5">0.99</text>
<text transform="rotate(325.92)" x="203" y="-1.5">0.95</text>
<text transform="rotate(329.09)" x="188" y="-1.5">1</text>
<text transform="rotate(334.84)" x="241" y="-1.5">1</text>
<text transform="rotate(338.28)" x="238" y="-1.5">0.8</text>
<text transform="rotate(336.56)" x="218" y="-1.5">1</text>
<text transform="rotate(332.825)" x="173" y="-1.5">0.89</text>
<text transform="rotate(341.72)" x="241" y="-1.5">1</text>
<text transform="rotate(343.01)" x="213" y="-1.5">1</text>
<text transform="rotate(337.92)" x="158" y="-1.5">0.54</text>
<text transform="rotate(348.6)" x="223" y="-1.5">0.65</text>
<text transform="rotate(347.31)" x="203" y="-1.5">0.98</text>
<text transform="rotate(342.615)" x="143" y="-1.5">1</text>
<text transform="rotate(352.04)" x="228" y="-1.5">0.46</text>
<text transform="rotate(355.48)" x="238" y="-1.5">0.99</text>
<text transform="rotate(353.76)" x="198" y="-1.5">1</text>
<text transform="rotate(355.91)" x="123" y="-1.5">1</text>
</g>
<g id="clade-arcs" class="ca">
<circle r="358" pathLength="360" stroke="#ee4422" stroke-dasharray="147.2 360" transform="rotate(208.6)"/>
<circle r="358" pathLength="360" stroke="#1c2a8a" stroke-dasharray="67.8 360" transform="rotate(356.2)"/>
<circle r="358" pathLength="360" stroke="#1c2a8a" stroke-dasharray="40.2 360" transform="rotate(64.8)"/>
<circle r="358" pathLength="360" stroke="#1c2a8a" stroke-dasharray="27.2 360" transform="rotate(105.8)"/>
<circle r="358" pathLength="360" stroke="#1c2a8a" stroke-dasharray="4.2 360" transform="rotate(133.8)"/>
<circle r="358" pathLength="360" stroke="#1c2a8a" stroke-dasharray="40.4 360" transform="rotate(138.8)"/>
<circle r="358" pathLength="360" stroke="#1c2a8a" stroke-dasharray="27.2 360" transform="rotate(180)"/>
</g>
</g>
<g id="clade-labels" class="cl">
<text x="565" y="16" text-anchor="middle">TPS-a</text>
<text x="8" y="294">TPS-c</text>
<text x="3" y="513">TPS-e/f</text>
<text x="133" y="653">TPS-g</text>
<text x="210" y="712">TPS-b-I</text>
<text x="428" y="753">TPS-b-II</text>
<text x="764" y="573" text-anchor="middle">TPS-b-III</text>
</g>
<g id="scale-bar">
<line x1="393" y1="815" x2="407" y2="815" stroke="#000" stroke-width="1"/>
<text x="400" y="830" text-anchor="middle" font-family="Liberation Sans, Arial, sans-serif" font-size="9">0.5</text>
</g>
</svg>
